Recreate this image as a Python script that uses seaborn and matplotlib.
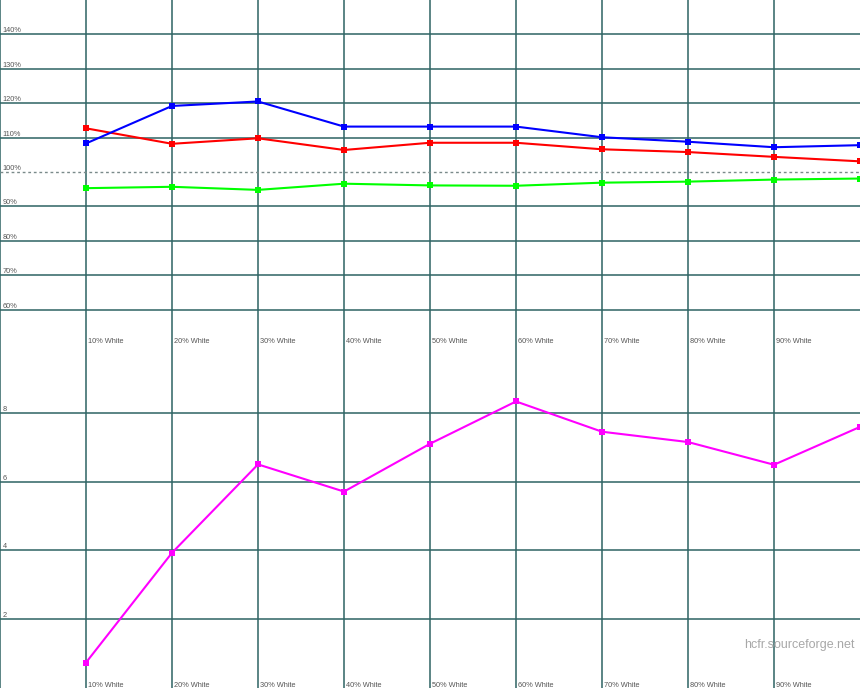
import pandas as pd
import matplotlib
matplotlib.use('Agg')
import matplotlib.pyplot as plt
import matplotlib.transforms as mtransforms
import seaborn as sns

# Grey scale steps (% white) and their labels
levels = [10, 20, 30, 40, 50, 60, 70, 80, 90, 100]
level_labels = ['10% White', '20% White', '30% White', '40% White', '50% White',
                '60% White', '70% White', '80% White', '90% White']

# RGB levels (%)
red = [112.7, 108.2, 109.8, 106.4, 108.5, 108.5, 106.6, 105.8, 104.4, 103.1]
green = [95.3, 95.7, 94.8, 96.6, 96.1, 96.0, 96.9, 97.2, 97.8, 98.1]
blue = [108.3, 119.2, 120.5, 113.2, 113.2, 113.2, 110.1, 108.8, 107.2, 107.8]

# Delta E per step
delta_e = [0.74, 3.93, 6.50, 5.71, 7.10, 8.33, 7.45, 7.15, 6.49, 7.59]

rgb_ticks = [60, 70, 80, 90, 100, 110, 120, 130, 140]
de_ticks = [2, 4, 6, 8]

grid_color = '#2f6464'
label_color = '#555555'

sns.set_style('white')
plt.rcParams['font.family'] = ['Liberation Sans', 'DejaVu Sans']

df_rgb = pd.DataFrame({'level': levels * 3,
                       'value': red + green + blue,
                       'channel': ['R'] * 10 + ['G'] * 10 + ['B'] * 10})
df_de = pd.DataFrame({'level': levels, 'dE': delta_e})

fig = plt.figure(figsize=(8.6, 6.88), dpi=100)
ax1 = fig.add_axes([0, 0.5, 1, 0.5])
ax2 = fig.add_axes([0, 0, 1, 0.5])


def draw_grid(ax, yticks, fmt):
    for x in [0] + levels[:-1]:
        ax.axvline(x, color=grid_color, lw=1.3, alpha=0.85, zorder=1)
    for y in yticks:
        if fmt(y) == '100%':
            ax.axhline(y, color='#7a8a8a', lw=1.0, ls=(0, (2, 2)), zorder=1)
        else:
            ax.axhline(y, color=grid_color, lw=1.3, alpha=0.85, zorder=1)
        ax.text(0.3, y, fmt(y), fontsize=5.3, color=label_color,
                va='bottom', ha='left', zorder=3)
    trans = mtransforms.blended_transform_factory(ax.transData, ax.transAxes)
    for x, lab in zip(levels, level_labels):
        ax.text(x + 0.2, -0.003, lab, fontsize=5.3, color=label_color,
                va='bottom', ha='left', transform=trans, zorder=3)
    ax.set_xlim(0, 100)
    ax.set_xticks([])
    ax.set_yticks([])
    ax.set_xlabel('')
    ax.set_ylabel('')
    for s in ax.spines.values():
        s.set_visible(False)


# Top panel: RGB levels
sns.lineplot(data=df_rgb, x='level', y='value', hue='channel',
             palette={'R': '#ff0000', 'G': '#00ff00', 'B': '#0000ff'},
             hue_order=['G', 'R', 'B'],
             marker='s', markersize=5, markeredgewidth=0, lw=1.5,
             legend=False, ax=ax1, zorder=4)
ax1.set_ylim(50, 150)
draw_grid(ax1, rgb_ticks, lambda v: f'{v}%')

# Bottom panel: delta E
sns.lineplot(data=df_de, x='level', y='dE', color='#ff00ff',
             marker='s', markersize=5, markeredgewidth=0, lw=1.5,
             ax=ax2, zorder=4)
ax2.set_ylim(0, 10)
draw_grid(ax2, de_ticks, lambda v: f'{v}')

ax2.text(0.994, 0.125, 'hcfr.sourceforge.net', transform=ax2.transAxes,
         fontsize=9, color='#a8a8a8', ha='right', va='center')

fig.savefig('out.png', dpi=100)
